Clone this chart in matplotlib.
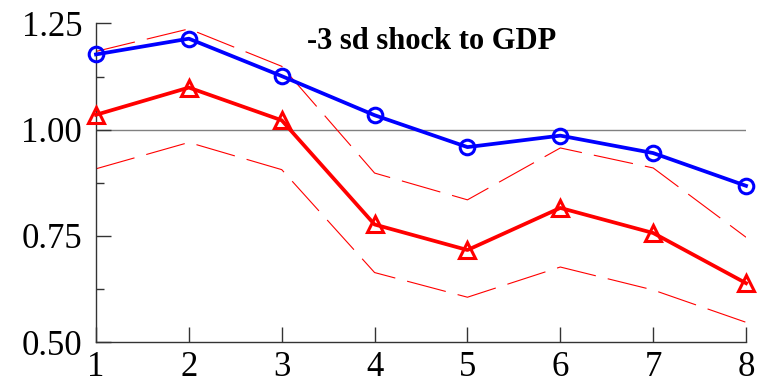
import matplotlib
matplotlib.use("Agg")
import matplotlib.pyplot as plt
from matplotlib.ticker import FormatStrFormatter

plt.rcParams['font.family'] = ['Liberation Serif', 'DejaVu Serif']

horizon = [1, 2, 3, 4, 5, 6, 7, 8]
blue_irf = [1.177, 1.214, 1.126, 1.034, 0.959, 0.986, 0.945, 0.868]
red_irf = [1.035, 1.099, 1.022, 0.777, 0.717, 0.816, 0.757, 0.639]
red_upper = [1.184, 1.237, 1.149, 0.898, 0.835, 0.957, 0.910, 0.747]
red_lower = [0.908, 0.970, 0.906, 0.664, 0.606, 0.677, 0.623, 0.547]
y_major = [0.50, 0.75, 1.00, 1.25]
y_minor = [0.625, 0.875, 1.125]

fig = plt.figure(figsize=(7.65, 3.88), dpi=100)
ax = fig.add_axes([0.1255, 0.1178, 0.8497, 0.822])

ax.axhline(1.0, color='#808080', lw=1.0, zorder=1)

dash = (0, (36, 11))
ax.plot(horizon, red_upper, color='red', lw=0.8, linestyle=dash, zorder=2)
ax.plot(horizon, red_lower, color='red', lw=0.8, linestyle=dash, zorder=2)

ax.plot(horizon, red_irf, color='red', lw=2.7, marker='^', markersize=11,
        markerfacecolor='none', markeredgewidth=2.2, clip_on=False, zorder=3)
ax.plot(horizon, blue_irf, color='blue', lw=2.7, marker='o', markersize=10.5,
        markerfacecolor='none', markeredgewidth=2.2, clip_on=False, zorder=4)

ax.set_xlim(1, 8)
ax.set_ylim(0.5, 1.25)
ax.set_xticks(horizon)
ax.set_yticks(y_major)
ax.set_yticks(y_minor, minor=True)
ax.yaxis.set_major_formatter(FormatStrFormatter('%.2f'))

for s in ['top', 'right']:
    ax.spines[s].set_visible(False)
for s in ['left', 'bottom']:
    ax.spines[s].set_color('#333333')
    ax.spines[s].set_linewidth(1.0)

ax.tick_params(axis='both', which='major', direction='in', length=11,
               width=1.0, color='#333333', labelsize=25)
ax.tick_params(axis='y', which='minor', direction='in', length=6,
               width=1.0, color='#333333')
ax.tick_params(axis='y', which='major', pad=10)
ax.tick_params(axis='x', which='major', pad=6)

ax.text(0.516, 0.919, '-3 sd shock to GDP', transform=ax.transAxes,
        ha='center', va='baseline', fontsize=22, fontweight='bold')

fig.savefig('out.png', dpi=100)
